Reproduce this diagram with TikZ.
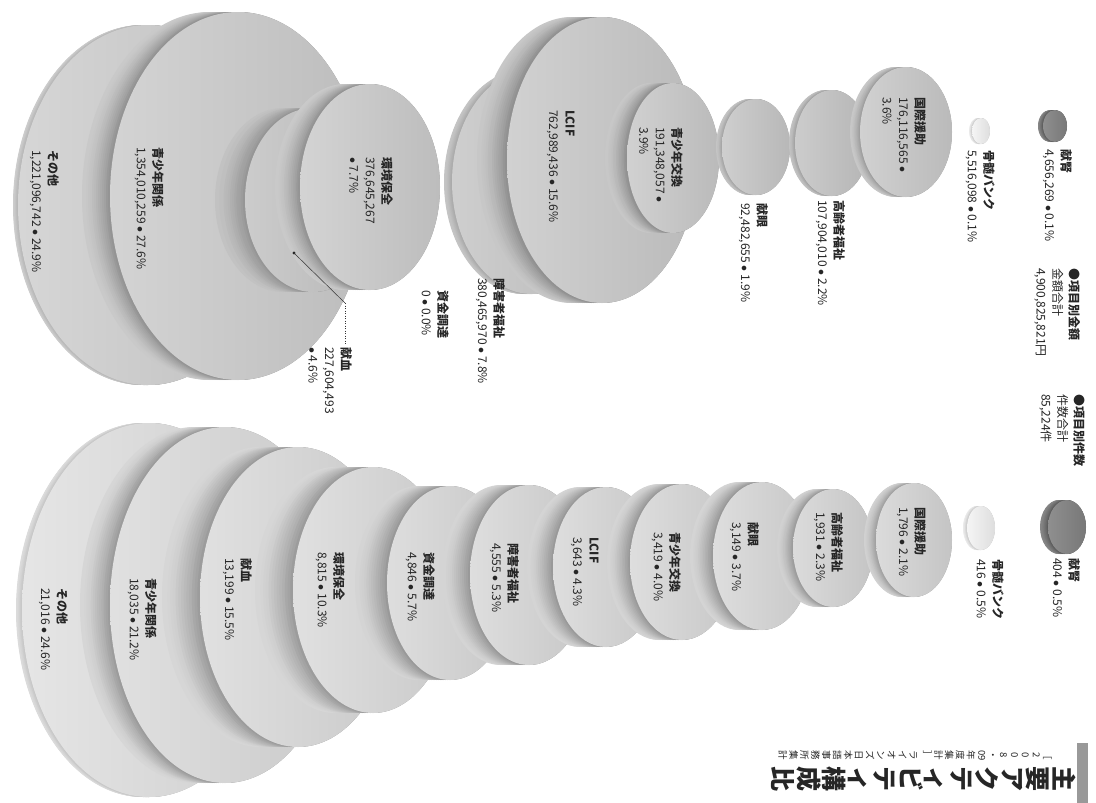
\documentclass[tikz,border=0pt]{standalone}
\usepackage{fontspec}
\setmainfont{Noto Sans CJK JP}
\tikzset{
  lbl/.style={rotate=-90, anchor=north west, align=left, inner sep=0pt,
    font=\fontsize{12}{16.5}\selectfont, text=black!85},
  titlestack/.style={rotate=-90, anchor=north west, align=center, inner sep=0pt, text=black!85},
}
\newcommand{\bu}{~$\bullet$~}
% name, cx, cy, rx, ry, rim width, face darkness, rim extra darkness
\newcommand{\mydisc}[8]{%
  \foreach \i in {0,...,14}{%
    \pgfmathsetmacro{\cxo}{#2-#6*(14-\i)/14}%
    \pgfmathtruncatemacro{\rc}{#7+#8*(\i/14)^1.5}%
    \fill[black!\rc] (\cxo,#3) ellipse [x radius=#4pt, y radius=#5pt];
  }%
  \pgfmathtruncatemacro{\fa}{#7-4}\pgfmathtruncatemacro{\fb}{#7+5}%
  \shade[left color=black!\fa, right color=black!\fb] (#2,#3) ellipse [x radius=#4pt, y radius=#5pt];
  \coordinate (#1) at (#2,#3);
}
\newcommand{\mylab}[5]{\node[lbl] (#1) at (#2,#3) {\textbf{#4}\\#5};}
\begin{document}
\begin{tikzpicture}[x=1pt,y=-1pt]
\useasboundingbox (0,0) rectangle (1096,803);
\fill[white] (0,0) rectangle (1096,803);

% ---------- top row: amounts ----------
\mydisc{dT1}{148}{205}{130}{180}{5}{20}{10}
\mydisc{dT2}{238}{196}{128}{184}{28}{21}{24}
\mydisc{dT3}{313}{200}{68}{92}{30}{24}{20}
\mydisc{dT4}{370}{187}{70}{103}{25}{21}{24}
\mydisc{dT5}{532}{182}{80}{112}{8}{23}{12}
\mydisc{dT6}{602}{160}{95}{143}{30}{22}{24}
\mydisc{dT7}{673}{158}{46}{75}{22}{22}{24}
\mydisc{dT8}{756}{147}{34}{48}{6}{23}{14}
\mydisc{dT9}{832}{143}{37}{53}{6}{24}{14}
\mydisc{dT10}{906}{132}{46}{65}{10}{22}{18}
\mydisc{dT11}{981}{131}{9}{13}{3}{8}{14}
\mydisc{dT12}{1055}{126}{12}{16}{5}{48}{18}

% ---------- bottom row: counts ----------
\mydisc{dB1}{149}{610}{127}{187}{6}{14}{10}
\mydisc{dB2}{225}{605}{115}{178}{30}{16}{26}
\mydisc{dB3}{298}{597}{98}{150}{38}{16}{26}
\mydisc{dB4}{373}{590}{80}{123}{38}{16}{26}
\mydisc{dB5}{450}{583}{63}{97}{32}{17}{26}
\mydisc{dB6}{529}{575}{59}{90}{28}{17}{26}
\mydisc{dB7}{606}{567}{53}{80}{26}{17}{26}
\mydisc{dB8}{682}{562}{52}{78}{23}{17}{26}
\mydisc{dB9}{762}{556}{49}{74}{23}{17}{26}
\mydisc{dB10}{833}{548}{40}{59}{16}{18}{24}
\mydisc{dB11}{914}{540}{38}{57}{12}{18}{22}
\mydisc{dB12}{981}{528}{14}{22}{4}{8}{14}
\mydisc{dB13}{1067}{527}{19}{27}{8}{48}{18}

% ---------- top labels ----------
\mylab{lT1}{59}{150}{その他}{1,221,096,742\bu 24.9\%}
\mylab{lT2}{164}{147}{青少年関係}{1,354,010,259\bu 27.6\%}
\mylab{lT3}{352}{347}{献血}{227,604,493\\$\bullet$~4.6\%}
\mylab{lT4}{393}{157}{環境保全}{376,645,267\\$\bullet$~7.7\%}
\mylab{lT5}{449}{290}{資金調達}{0\bu 0.0\%}
\mylab{lT6}{505}{278}{障害者福祉}{380,465,970\bu 7.8\%}
\mylab{lT7}{575}{110}{LCIF}{762,989,436\bu 15.6\%}
\mylab{lT8}{683}{127}{青少年交換}{191,348,057~$\bullet$\\3.9\%}
\mylab{lT9}{768}{203}{献眼}{92,482,655\bu 1.9\%}
\mylab{lT10}{845}{200}{高齢者福祉}{107,904,010\bu 2.2\%}
\mylab{lT11}{926}{97}{国際援助}{176,116,565~$\bullet$\\3.6\%}
\mylab{lT12}{995}{150}{骨髄バンク}{5,516,098\bu 0.1\%}
\mylab{lT13}{1072}{149}{献腎}{4,656,269\bu 0.1\%}
\mylab{legT}{1080}{268}{●項目別金額}{金額合計\\4,900,825,821円}

% leader for the hidden 献血 disc
\coordinate (kdot) at (294,253);
\coordinate (kbend) at (345,303);
\coordinate (kend) at (345,345);
\fill[black!85] (kdot) circle [radius=1.6pt];
\draw[black!80, line width=0.5pt] (kdot) -- (kbend);
\draw[black!80, line width=0.5pt, dotted] (kbend) -- (kend);

% ---------- bottom labels ----------
\mylab{lB1}{68}{588}{その他}{21,016\bu 24.6\%}
\mylab{lB2}{157}{578}{青少年関係}{18,035\bu 21.2\%}
\mylab{lB3}{252}{558}{献血}{13,199\bu 15.5\%}
\mylab{lB4}{345}{552}{環境保全}{8,815\bu 10.3\%}
\mylab{lB5}{435}{552}{資金調達}{4,846\bu 5.7\%}
\mylab{lB6}{519}{543}{障害者福祉}{4,555\bu 5.3\%}
\mylab{lB7}{599}{537}{LCIF}{3,643\bu 4.3\%}
\mylab{lB8}{681}{532}{青少年交換}{3,419\bu 4.0\%}
\mylab{lB9}{759}{522}{献眼}{3,149\bu 3.7\%}
\mylab{lB10}{843}{512}{高齢者福祉}{1,931\bu 2.3\%}
\mylab{lB11}{926}{507}{国際援助}{1,796\bu 2.1\%}
\mylab{lB12}{1004}{559}{骨髄バンク}{416\bu 0.5\%}
\mylab{lB13}{1080}{558}{献腎}{404\bu 0.5\%}
\mylab{legB}{1085}{394}{●項目別件数}{件数合計\\85,224件}

% ---------- title block ----------
\fill[black!40] (1077,743) rectangle (1088,803);
\node[titlestack, font=\fontsize{25}{25.5}\selectfont\bfseries] (title) at (1076,766)
  {主\\要\\ア\\ク\\テ\\ィ\\ビ\\テ\\ィ\\構\\成\\比};
\node[titlestack, font=\fontsize{9.5}{10.9}\selectfont] (subtitle) at (1052,750)
  {［\\2\\0\\0\\8\\・\\09\\年\\度\\集\\計\\］\\[3pt]ラ\\イ\\オ\\ン\\ズ\\日\\本\\語\\事\\務\\所\\集\\計};
\end{tikzpicture}
\end{document}
